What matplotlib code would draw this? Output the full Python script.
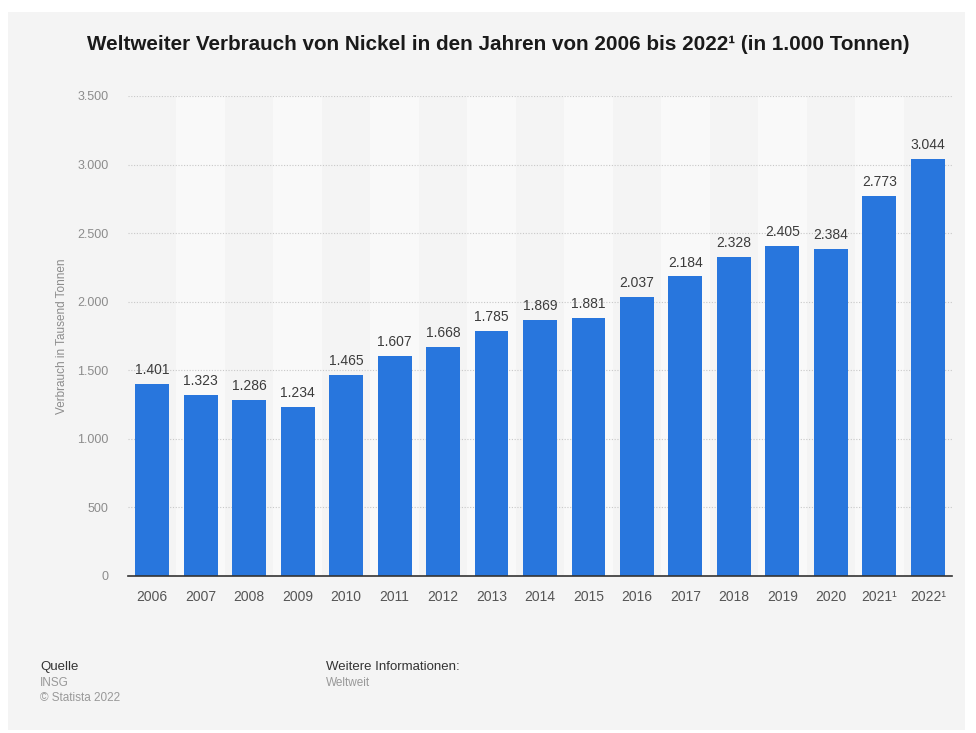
import matplotlib
matplotlib.use("Agg")
import matplotlib.pyplot as plt
from matplotlib.ticker import FuncFormatter

years = ["2006", "2007", "2008", "2009", "2010", "2011", "2012", "2013", "2014",
         "2015", "2016", "2017", "2018", "2019", "2020", "2021¹", "2022¹"]
consumption = [1401, 1323, 1286, 1234, 1465, 1607, 1668, 1785, 1869,
               1881, 2037, 2184, 2328, 2405, 2384, 2773, 3044]
y_ticks = [0, 500, 1000, 1500, 2000, 2500, 3000, 3500]

BG = "#f4f4f4"
BAND = "#f9f9f9"
BAR = "#2876dd"

plt.rcParams["font.family"] = ["Liberation Sans", "DejaVu Sans"]

fig = plt.figure(figsize=(9.76, 7.33), dpi=100, facecolor="white")
# grey card behind the chart
fig.patches.append(plt.Rectangle((8 / 976, 3 / 733), 957 / 976, 718 / 733,
                                 transform=fig.transFigure, facecolor=BG,
                                 edgecolor="none", zorder=0))

ax = fig.add_axes([128 / 976, (733 - 576) / 733, 824 / 976, 480 / 733])
ax.set_zorder(2)
ax.set_facecolor(BG)

def de_thousands(v, _pos=None):
    return f"{int(v):,}".replace(",", ".")

x = list(range(len(years)))
for i in x:
    if i % 2 == 1:
        ax.axvspan(i - 0.5, i + 0.5, facecolor=BAND, edgecolor="none", zorder=0)

bars = ax.bar(x, consumption, width=0.7, color=BAR, zorder=3)
for xi, v in zip(x, consumption):
    ax.annotate(de_thousands(v), (xi, v), xytext=(0, 5), textcoords="offset points",
                ha="center", va="bottom", fontsize=10, color="#3c3c3c", zorder=4)

ax.set_xlim(-0.5, len(years) - 0.5)
ax.set_ylim(0, 3500)
ax.set_yticks(y_ticks)
ax.yaxis.set_major_formatter(FuncFormatter(de_thousands))
ax.set_xticks(x)
ax.set_xticklabels(years)
ax.grid(axis="y", color="#c8c8c8", linestyle=(0, (1, 1.5)), linewidth=0.8, zorder=1)
ax.set_axisbelow(True)

for s in ["top", "right", "left"]:
    ax.spines[s].set_visible(False)
ax.spines["bottom"].set_color("#333333")
ax.spines["bottom"].set_linewidth(1.2)
ax.spines["bottom"].set_zorder(5)

ax.tick_params(axis="x", length=0, pad=10, labelsize=10, labelcolor="#555555")
ax.tick_params(axis="y", length=0, pad=14, labelsize=9, labelcolor="#8c8c8c")

ax.set_ylabel("Verbrauch in Tausend Tonnen", fontsize=8.5, color="#8c8c8c")
ax.yaxis.set_label_coords(-60 / 824, 0.5)

fig.text(498 / 976, 1 - 45 / 733,
         "Weltweiter Verbrauch von Nickel in den Jahren von 2006 bis 2022¹ (in 1.000 Tonnen)",
         ha="center", va="center", fontsize=14.9, fontweight="bold", color="#1a1a1a")

fig.text(40 / 976, 1 - 667 / 733, "Quelle", fontsize=9.5, color="#333333", va="center")
fig.text(40 / 976, 1 - 683 / 733, "INSG", fontsize=8.5, color="#999999", va="center")
fig.text(40 / 976, 1 - 698 / 733, "© Statista 2022", fontsize=8.5, color="#999999", va="center")
fig.text(326 / 976, 1 - 667 / 733, "Weitere Informationen:", fontsize=9.5, color="#333333", va="center")
fig.text(326 / 976, 1 - 683 / 733, "Weltweit", fontsize=8.5, color="#999999", va="center")

fig.savefig("out.png", dpi=100, facecolor="white")
